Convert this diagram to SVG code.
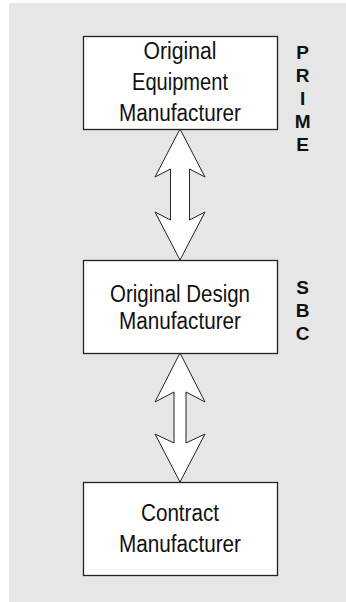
<svg xmlns="http://www.w3.org/2000/svg" width="346" height="602" viewBox="0 0 346 602">
<style>
.box{fill:#ffffff;stroke:#222222;stroke-width:1.3}
.lbl{font-family:"Liberation Sans",Arial,sans-serif;font-size:23.5px;fill:#111111;text-anchor:middle}
.side{font-family:"Liberation Sans",Arial,sans-serif;font-size:19px;font-weight:bold;fill:#111111;text-anchor:middle}
.arrow{fill:#ffffff;stroke:#222222;stroke-width:1;stroke-linejoin:miter}
</style>
<rect x="9" y="3" width="337" height="599" fill="#e6e6e6"/>
<g id="connectors">
<polygon class="arrow" points="180,129 205,177 189.5,169 189.5,220 205,212 180,260 155,212 170.5,220 170.5,169 155,177"/>
<polygon class="arrow" points="180,353 205,402 186,392 186,443 205,434 180,482 155,434 174,443 174,392 155,402"/>
</g>
<g id="oem">
<rect class="box" x="83.5" y="36.5" width="194" height="93"/>
<text class="lbl" x="180" y="59" textLength="73" lengthAdjust="spacingAndGlyphs">Original</text>
<text class="lbl" x="180" y="90" textLength="96" lengthAdjust="spacingAndGlyphs">Equipment</text>
<text class="lbl" x="180" y="120.5" textLength="122" lengthAdjust="spacingAndGlyphs">Manufacturer</text>
</g>
<g id="odm">
<rect class="box" x="83.5" y="260.5" width="194" height="93"/>
<text class="lbl" x="180" y="302" textLength="140" lengthAdjust="spacingAndGlyphs">Original Design</text>
<text class="lbl" x="180" y="329" textLength="122" lengthAdjust="spacingAndGlyphs">Manufacturer</text>
</g>
<g id="cm">
<rect class="box" x="83.5" y="482.5" width="194" height="93"/>
<text class="lbl" x="180" y="520.5" textLength="78" lengthAdjust="spacingAndGlyphs">Contract</text>
<text class="lbl" x="180" y="551.5" textLength="122" lengthAdjust="spacingAndGlyphs">Manufacturer</text>
</g>
<g id="prime">
<text class="side" x="302.7" y="59.3">P</text>
<text class="side" x="302.7" y="82.3">R</text>
<text class="side" x="302.7" y="105">I</text>
<text class="side" x="302.7" y="128.3">M</text>
<text class="side" x="302.7" y="150.7">E</text>
</g>
<g id="sbc">
<text class="side" x="302.7" y="294">S</text>
<text class="side" x="302.7" y="316.7">B</text>
<text class="side" x="302.7" y="339.5">C</text>
</g>
</svg>
